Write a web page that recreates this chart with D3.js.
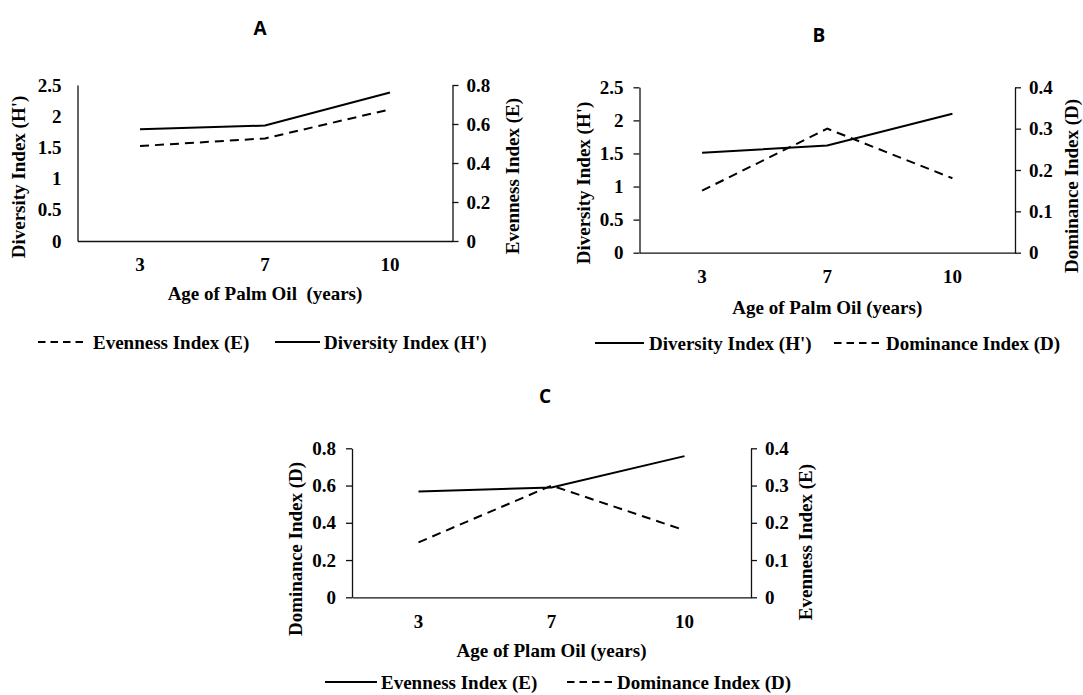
<!DOCTYPE html>
<html lang="en">
<head>
<meta charset="utf-8">
<title>Palm oil diversity indices</title>
<script src="https://cdn.jsdelivr.net/npm/d3@7"></script>
<style>
  body { margin: 0; background: #fff; }
  svg text { font-family: "Liberation Serif", "Times New Roman", serif; font-weight: bold; font-size: 19px; fill: #000; }
  .axis path, .axis line { stroke: #111; stroke-width: 1.3; }
  .axis text { font-family: "Liberation Serif", "Times New Roman", serif; font-weight: bold; font-size: 19px; }
  .panel-title { font-family: "Open Sans", "Liberation Sans", sans-serif !important; font-weight: bold !important; font-size: 19px !important; }
  .series { fill: none; stroke: #000; stroke-width: 2; }
  .dashed { stroke-dasharray: 9,6; }
  .pre { white-space: pre; }
</style>
</head>
<body>
<svg width="1083" height="695"></svg>
<script>
  // data
  var ages = ["3", "7", "10"];

  var diversityA = [1.79, 1.85, 2.38];
  var evennessA = [0.487, 0.526, 0.675];

  var diversityB = [1.51, 1.62, 2.10];
  var dominanceB = [0.15, 0.30, 0.18];

  var evennessC = [0.284, 0.295, 0.379];
  var dominanceC = [0.295, 0.60, 0.36];

  var ticksDiversity = [0, 0.5, 1, 1.5, 2, 2.5];
  var ticksEvennessA = [0, 0.2, 0.4, 0.6, 0.8];
  var ticksDominanceB = [0, 0.1, 0.2, 0.3, 0.4];
  var ticksDominanceC = [0, 0.2, 0.4, 0.6, 0.8];
  var ticksEvennessC = [0, 0.1, 0.2, 0.3, 0.4];

  var svg = d3.select("svg");

  // layout of the three panels
  var panels = [
    { name: "A", left: 77.5, right: 452.5, top: 85, bottom: 241,
      titleX: 260, titleY: 28,
      leftTicks: ticksDiversity, rightTicks: ticksEvennessA, leftTickSize: 0,
      leftLabel: "Diversity Index (H')", leftLabelX: 18, leftLabelY: 177,
      rightLabel: "Evenness Index (E)", rightLabelX: 512, rightLabelY: 176,
      xLabel: "Age of Palm Oil  (years)", xLabelY: 293,
      series: [
        { values: diversityA, axis: "left", dashed: false },
        { values: evennessA, axis: "right", dashed: true }
      ],
      legendY: 342,
      legend: [
        { text: "Evenness Index (E)", dashed: true, x1: 38, x2: 83, tx: 93 },
        { text: "Diversity Index (H')", dashed: false, x1: 275, x2: 320, tx: 324 }
      ] },
    { name: "B", left: 639.5, right: 1015, top: 87.3, bottom: 252.7,
      titleX: 819, titleY: 35,
      leftTicks: ticksDiversity, rightTicks: ticksDominanceB, leftTickSize: 6,
      leftLabel: "Diversity Index (H')", leftLabelX: 583, leftLabelY: 183,
      rightLabel: "Dominance Index (D)", rightLabelX: 1071, rightLabelY: 186,
      xLabel: "Age of Palm Oil (years)", xLabelY: 307,
      series: [
        { values: diversityB, axis: "left", dashed: false },
        { values: dominanceB, axis: "right", dashed: true }
      ],
      legendY: 343,
      legend: [
        { text: "Diversity Index (H')", dashed: false, x1: 595, x2: 644, tx: 649 },
        { text: "Dominance Index (D)", dashed: true, x1: 834, x2: 881, tx: 886 }
      ] },
    { name: "C", left: 352, right: 751, top: 448.3, bottom: 597.3,
      titleX: 545, titleY: 396,
      leftTicks: ticksDominanceC, rightTicks: ticksEvennessC, leftTickSize: 6,
      leftLabel: "Dominance Index (D)", leftLabelX: 295, leftLabelY: 549,
      rightLabel: "Evenness Index (E)", rightLabelX: 805, rightLabelY: 542,
      xLabel: "Age of Plam Oil (years)", xLabelY: 650,
      series: [
        { values: evennessC, axis: "right", dashed: false },
        { values: dominanceC, axis: "left", dashed: true }
      ],
      legendY: 682,
      legend: [
        { text: "Evenness Index (E)", dashed: false, x1: 325, x2: 377, tx: 381 },
        { text: "Dominance Index (D)", dashed: true, x1: 567, x2: 612, tx: 617 }
      ] }
  ];

  panels.forEach(function(p) {
    var x = d3.scaleBand().domain(ages).range([p.left, p.right]);
    var yLeft = d3.scaleLinear()
      .domain([0, d3.max(p.leftTicks)]).range([p.bottom, p.top]);
    var yRight = d3.scaleLinear()
      .domain([0, d3.max(p.rightTicks)]).range([p.bottom, p.top]);

    var g = svg.append("g").attr("class", "panel");

    g.append("g")
      .attr("class", "axis")
      .attr("transform", "translate(0," + p.bottom + ")")
      .call(d3.axisBottom(x).tickSize(0).tickPadding(17))
      .selectAll("text").attr("fill", "#000");

    g.append("g")
      .attr("class", "axis")
      .attr("transform", "translate(" + p.left + ",0)")
      .call(d3.axisLeft(yLeft).tickValues(p.leftTicks)
        .tickFormat(function(d) { return String(d); })
        .tickSize(p.leftTickSize).tickSizeOuter(0)
        .tickPadding(16 - p.leftTickSize))
      .selectAll("text").attr("fill", "#000");

    g.append("g")
      .attr("class", "axis")
      .attr("transform", "translate(" + p.right + ",0)")
      .call(d3.axisRight(yRight).tickValues(p.rightTicks)
        .tickFormat(function(d) { return String(d); })
        .tickSize(6).tickSizeOuter(0).tickPadding(8))
      .selectAll("text").attr("fill", "#000");

    g.selectAll("g.axis").select(".domain").attr("stroke", "#111");

    p.series.forEach(function(s) {
      var y = s.axis === "left" ? yLeft : yRight;
      var line = d3.line()
        .x(function(d, i) { return x(ages[i]) + x.bandwidth() / 2; })
        .y(function(d) { return y(d); });
      g.append("path")
        .datum(s.values)
        .attr("class", s.dashed ? "series dashed" : "series")
        .attr("d", line);
    });

    g.append("text")
      .attr("class", "panel-title")
      .attr("x", p.titleX).attr("y", p.titleY)
      .attr("dy", "0.35em")
      .attr("text-anchor", "middle")
      .text(p.name);

    g.append("text")
      .attr("class", "pre")
      .attr("x", (p.left + p.right) / 2).attr("y", p.xLabelY)
      .attr("dy", "0.35em")
      .attr("text-anchor", "middle")
      .text(p.xLabel);

    g.append("text")
      .attr("transform", "translate(" + p.leftLabelX + "," + p.leftLabelY + ") rotate(-90)")
      .attr("dy", "0.35em")
      .attr("text-anchor", "middle")
      .text(p.leftLabel);

    g.append("text")
      .attr("transform", "translate(" + p.rightLabelX + "," + p.rightLabelY + ") rotate(-90)")
      .attr("dy", "0.35em")
      .attr("text-anchor", "middle")
      .text(p.rightLabel);

    var leg = g.append("g").attr("class", "legend")
      .attr("transform", "translate(0," + p.legendY + ")");
    p.legend.forEach(function(item) {
      leg.append("line")
        .attr("class", item.dashed ? "series dashed" : "series")
        .style("stroke-dasharray", item.dashed ? "7.5,5" : null)
        .attr("x1", item.x1).attr("x2", item.x2)
        .attr("y1", 0).attr("y2", 0);
      leg.append("text")
        .attr("x", item.tx).attr("dy", "0.35em")
        .text(item.text);
    });
  });
</script>
</body>
</html>
